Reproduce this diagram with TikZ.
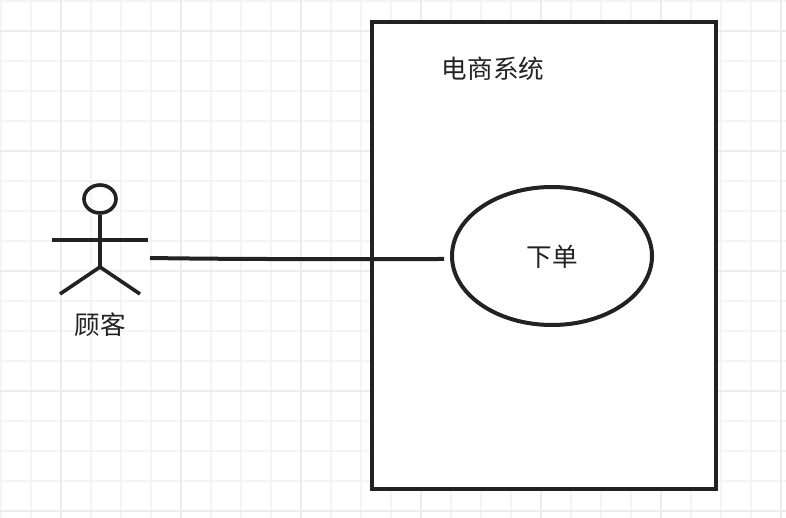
\documentclass[tikz,border=0pt]{standalone}
\usetikzlibrary{shapes.geometric}
\usepackage{fontspec}
\setmainfont{Noto Sans CJK SC}[Scale=1]
\definecolor{ink}{HTML}{222222}
\definecolor{gridminor}{HTML}{F4F4F4}
\definecolor{gridmajor}{HTML}{ECECEC}
\tikzset{
  minorgrid/.style={draw=gridminor,line width=2.2pt},
  majorgrid/.style={draw=gridmajor,line width=2.6pt},
  ink line/.style={draw=ink,line width=4pt},
  thin ink/.style={draw=ink,line width=3.6pt},
  label text/.style={text=ink,font=\fontsize{25.6}{30}\selectfont,inner sep=0pt}
}
\begin{document}
\begin{tikzpicture}[x=1pt,y=-1pt]
\useasboundingbox (0,0) rectangle (786,518);
\fill[white] (0,0) rectangle (786,518);
% grid
\foreach \g in {1,31,...,781} {\draw[minorgrid] (\g,0) -- (\g,518);}
\foreach \g in {1,31,...,511} {\draw[minorgrid] (0,\g) -- (786,\g);}
\foreach \g in {61,181,...,781} {\draw[majorgrid] (\g,0) -- (\g,518);}
\foreach \g in {31,151,...,511} {\draw[majorgrid] (0,\g) -- (786,\g);}
% system box
\node[ink line,fill=white,rectangle,minimum width=344pt,minimum height=467pt,inner sep=0pt,outer sep=0pt,line join=miter] (system) at (544,255.5) {};
\node[label text] (title) at (493,69) {电商系统};
% use case
\node[ink line,fill=white,ellipse,minimum width=200pt,minimum height=138pt,inner sep=0pt] (usecase) at (552,256) {};
\node[label text] (order) at (552.5,257) {下单};
% actor
\node[thin ink,ellipse,minimum width=32pt,minimum height=28pt,inner sep=0pt,fill=none] (head) at (100,199) {};
\coordinate (neck) at (head.south);
\coordinate (hip) at (100,267);
\coordinate (armL) at (52,240);
\coordinate (armR) at (148,240);
\coordinate (legL) at (60,294);
\coordinate (legR) at (140,294);
\draw[thin ink] (neck) -- (hip);
\draw[thin ink] (armL) -- (armR);
\draw[thin ink] (legL) -- (hip) -- (legR);
\node[label text] (customer) at (100,325) {顾客};
% association
\coordinate (assocA) at (150,258);
\coordinate (assocB) at (444,259);
\draw[ink line] (assocA) .. controls (250,259.5) and (340,259) .. (assocB);
\end{tikzpicture}
\end{document}
